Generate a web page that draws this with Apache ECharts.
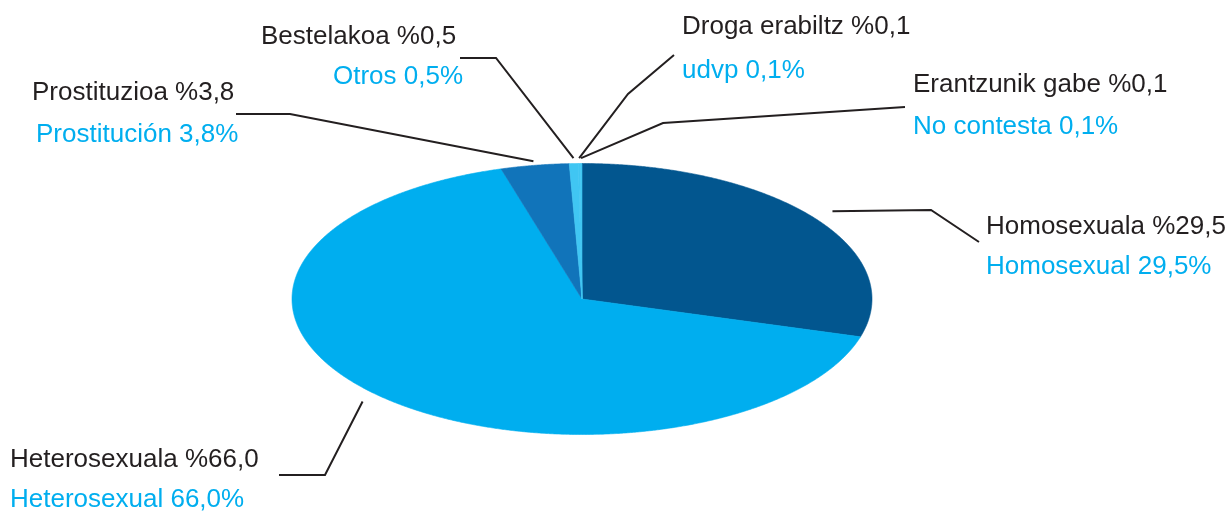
<!DOCTYPE html>
<html>
<head>
<meta charset="utf-8">
<script src="https://cdn.jsdelivr.net/npm/echarts@6/dist/echarts.min.js"></script>
<style>
  html, body { margin: 0; padding: 0; background: #ffffff; }
  #chart { width: 1232px; height: 512px; }
</style>
</head>
<body>
<div id="chart"></div>
<script>
// ---- data ----
const labelsEu = ['Homosexuala %29,5', 'Heterosexuala %66,0', 'Prostituzioa %3,8', 'Bestelakoa %0,5', 'Droga erabiltz %0,1', 'Erantzunik gabe %0,1'];
const labelsEs = ['Homosexual 29,5%', 'Heterosexual 66,0%', 'Prostitución 3,8%', 'Otros 0,5%', 'udvp 0,1%', 'No contesta 0,1%'];
const values = [29.5, 66.0, 3.8, 0.5, 0.1, 0.1];

// ---- styles / layout ----
const sliceColors = ['#02568F', '#00AEEF', '#1174BA', '#40C6F3', '#40C6F3', '#40C6F3'];
const pie = { cx: 582, cy: 299, rx: 290, ry: 135.5 };
// leader: radial factor of start point, bend points; text: x of each line, y of each line
const labelLayout = [
  { r: 1.08, bends: [[931, 210], [979, 242]], t1: [986, 227], t2: [986, 267] },
  { r: 1.07, bends: [[325, 475], [279, 475]], t1: [10, 460], t2: [10, 500] },
  { r: 1.03, bends: [[290, 114], [236, 114]], t1: [32, 93], t2: [36, 135] },
  { r: 1.04, bends: [[496, 58], [460, 58]], t1: [261, 37], t2: [333, 77] },
  { r: 1.04, bends: [[628, 94], [674, 55]], t1: [682, 27], t2: [682, 71] },
  { r: 1.04, bends: [[663, 123], [905, 107]], t1: [913, 85], t2: [913, 127] }
];

const FONT = '26px "Liberation Sans", Arial, sans-serif';
const total = values.reduce((a, b) => a + b, 0);

function pointAt(angle, f) {
  return [pie.cx + pie.rx * f * Math.sin(angle), pie.cy - pie.ry * f * Math.cos(angle)];
}

const chart = echarts.init(document.getElementById('chart'), null, { renderer: 'canvas' });
chart.setOption({
  animation: false,
  backgroundColor: '#ffffff',
  series: [{
    type: 'custom',
    coordinateSystem: 'none',
    data: values,
    renderItem: function (params, api) {
      const i = params.dataIndex;
      let before = 0;
      for (let j = 0; j < i; j++) before += values[j];
      const v = api.value(0);
      const a0 = before / total * Math.PI * 2;
      const a1 = (before + v) / total * Math.PI * 2;
      const pts = [[pie.cx, pie.cy]];
      const n = Math.max(2, Math.ceil((a1 - a0) / 0.005));
      for (let k = 0; k <= n; k++) {
        pts.push(pointAt(a0 + (a1 - a0) * k / n, 1));
      }
      const lay = labelLayout[i];
      const mid = (a0 + a1) / 2;
      const start = pointAt(mid, lay.r);
      const linePts = [start].concat(lay.bends);
      return {
        type: 'group',
        children: [
          {
            type: 'polygon',
            shape: { points: pts },
            style: { fill: sliceColors[i], stroke: sliceColors[i], lineWidth: 0.6 }
          },
          {
            type: 'polyline',
            shape: { points: linePts },
            style: { fill: null, stroke: '#231F20', lineWidth: 2 },
            z2: 10
          },
          {
            type: 'text',
            style: { text: labelsEu[i], x: lay.t1[0], y: lay.t1[1], fill: '#231F20', font: FONT, align: 'left', verticalAlign: 'middle' },
            z2: 10
          },
          {
            type: 'text',
            style: { text: labelsEs[i], x: lay.t2[0], y: lay.t2[1], fill: '#00AEEF', font: FONT, align: 'left', verticalAlign: 'middle' },
            z2: 10
          }
        ]
      };
    }
  }]
});
</script>
</body>
</html>
